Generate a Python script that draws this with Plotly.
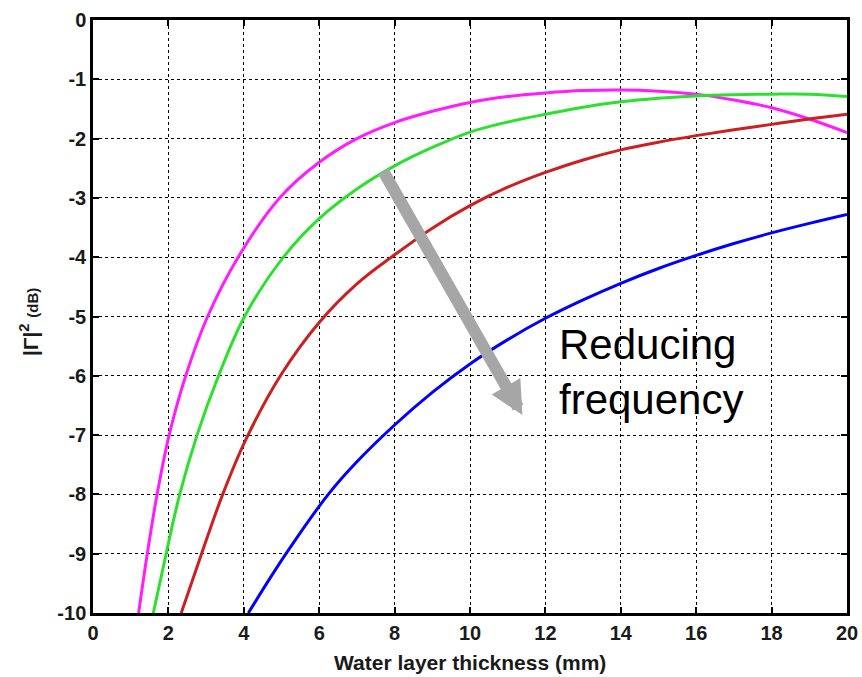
import plotly.graph_objects as go

# Data (water layer thickness in mm, |Γ|² in dB)
mag_x = [1.21, 1.44, 1.70, 2.02, 2.46, 3.04, 3.85, 4.95, 6, 7, 8, 9, 10, 11, 12, 13, 14, 15, 16, 17, 18, 19, 20]
mag_y = [-10, -9, -8, -7, -6, -5, -4, -3, -2.40, -2.0, -1.73, -1.54, -1.39, -1.29, -1.23, -1.19, -1.18, -1.2, -1.25, -1.35, -1.48, -1.67, -1.9]

grn_x = [1.60, 1.94, 2.30, 2.76, 3.33, 4.02, 5.05, 6, 7, 8, 9, 10, 11, 12, 13, 14, 15, 16, 17, 18, 19, 20]
grn_y = [-10, -9, -8, -7, -6, -5, -4, -3.35, -2.85, -2.46, -2.15, -1.89, -1.72, -1.59, -1.47, -1.38, -1.32, -1.28, -1.26, -1.25, -1.25, -1.29]

red_x = [2.34, 2.88, 3.44, 4.05, 5, 6, 7, 8, 9, 10, 11, 12, 13, 14, 15, 16, 17, 18, 19, 20]
red_y = [-10, -9, -8, -7.08, -5.97, -5.10, -4.45, -3.96, -3.51, -3.13, -2.82, -2.57, -2.36, -2.19, -2.06, -1.95, -1.85, -1.76, -1.67, -1.59]

blu_x = [4.12, 5.12, 6.24, 7, 8, 9, 10, 11, 12, 13, 14, 15, 16, 17, 18, 19, 20]
blu_y = [-10, -9, -8, -7.45, -6.83, -6.28, -5.80, -5.39, -5.03, -4.72, -4.44, -4.19, -3.97, -3.77, -3.59, -3.43, -3.28]

x_ticks = list(range(0, 21, 2))
y_ticks = list(range(-10, 1, 1))

series = [
    (mag_x, mag_y, "#ff1cff"),
    (grn_x, grn_y, "#2ee02e"),
    (red_x, red_y, "#cc1f1f"),
    (blu_x, blu_y, "#0000ff"),
]

fig = go.Figure()
for xs, ys, col in series:
    fig.add_trace(go.Scatter(x=xs, y=ys, mode="lines",
                             line=dict(color=col, width=3, shape="spline", smoothing=1.0),
                             showlegend=False, hoverinfo="skip"))

FONT = "Liberation Sans, Arial, sans-serif"
tickfont = dict(family=FONT, size=20, color="#1a1a1a", weight="bold")

common = dict(showline=True, linecolor="black", linewidth=2.5, mirror="ticks",
              ticks="inside", ticklen=6, tickcolor="black", tickwidth=1.5,
              showgrid=True, gridcolor="black", gridwidth=1.3, griddash="dot",
              zeroline=False, tickfont=tickfont, automargin=False)

fig.update_xaxes(range=[0, 20], tickvals=x_ticks, ticktext=[str(v) for v in x_ticks], **common)
fig.update_yaxes(range=[-10, 0], tickvals=y_ticks, ticktext=[str(v) for v in y_ticks], **common)

fig.add_annotation(x=11.39, y=-6.66, ax=7.68, ay=-2.53, xref="x", yref="y",
                   axref="x", ayref="y", text="", showarrow=True,
                   arrowcolor="#a6a6a6", arrowwidth=12, arrowhead=2, arrowsize=0.55)

fig.add_annotation(x=12.3, y=-5.94, xref="x", yref="y", xanchor="left", yanchor="middle",
                   text="Reducing<br>frequency", showarrow=False, align="left",
                   font=dict(family=FONT, size=42, color="black"))

fig.add_annotation(x=0.5, y=-0.083, xref="paper", yref="paper", xanchor="center", yanchor="middle",
                   text="Water layer thickness (mm)", showarrow=False,
                   font=dict(family=FONT, size=21, color="#1a1a1a", weight="bold"))

fig.add_annotation(x=-0.084, y=0.49, xref="paper", yref="paper", xanchor="center", yanchor="middle",
                   text="|Γ|<sup>2</sup> <span style='font-size:15px'>(dB)</span>",
                   showarrow=False, textangle=-90,
                   font=dict(family=FONT, size=21, color="#1a1a1a", weight="bold"))

fig.update_layout(width=862, height=677, margin=dict(l=93, r=15, t=20, b=64),
                  plot_bgcolor="white", paper_bgcolor="white")

fig.write_html("out.html")
